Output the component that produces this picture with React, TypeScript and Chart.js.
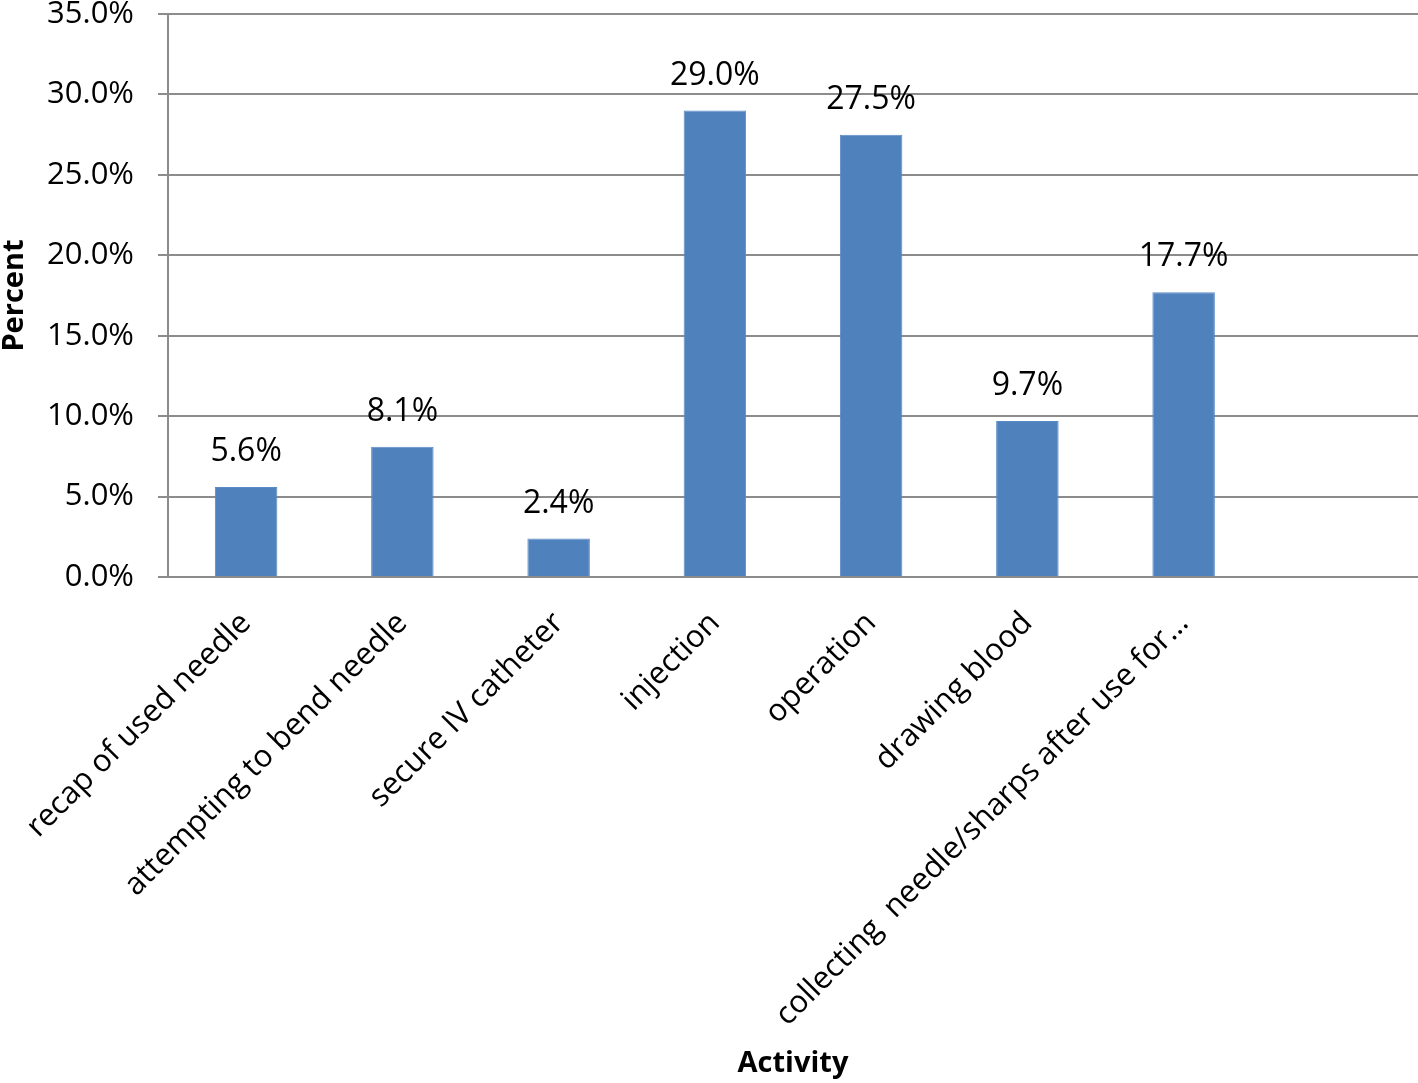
import React, { useEffect, useRef } from "react";
import { Chart, registerables } from "chart.js";

Chart.register(...registerables);

const categories = [
  "recap of used needle",
  "attempting to bend needle",
  "secure IV catheter",
  "injection",
  "operation",
  "drawing blood",
  "collecting  needle/sharps after use for…",
  "",
];
const percentValues: (number | null)[] = [5.6, 8.1, 2.4, 29.0, 27.5, 9.7, 17.7, null];
const yTickMax = 35;
const yTickStep = 5;

const FONT = "'Open Sans', 'Liberation Sans', sans-serif";
const GRID = "#8c8c8c";

const dataLabelPlugin = {
  id: "dataLabels",
  afterDatasetsDraw(chart: any) {
    const ctx = chart.ctx;
    const meta = chart.getDatasetMeta(0);
    ctx.save();
    ctx.font = `32px ${FONT}`;
    ctx.fillStyle = "#000";
    ctx.textAlign = "center";
    ctx.textBaseline = "middle";
    meta.data.forEach((bar: any, i: number) => {
      const v = percentValues[i];
      if (v == null) return;
      ctx.fillText(v.toFixed(1) + "%", bar.x, bar.y - 35);
    });
    ctx.restore();
  },
};

function zeroPadding(scale: any) {
  scale.paddingTop = 0;
  scale.paddingBottom = 0;
  scale.paddingLeft = 0;
  scale.paddingRight = 0;
}

export default function App() {
  const ref = useRef<HTMLCanvasElement>(null);
  useEffect(() => {
    if (!ref.current) return;
    const chart = new Chart(ref.current, {
      type: "bar",
      data: {
        labels: categories,
        datasets: [
          {
            data: percentValues as any,
            backgroundColor: "#4f81bd",
            borderColor: "#5b8bc6",
            borderWidth: 1,
            categoryPercentage: 1,
            barPercentage: 0.4,
          },
        ],
      },
      plugins: [dataLabelPlugin],
      options: {
        responsive: false,
        animation: false,
        devicePixelRatio: 1,
        layout: { padding: { top: 14, right: 0, left: 0, bottom: 0 } },
        plugins: { legend: { display: false }, tooltip: { enabled: false } },
        scales: {
          x: {
            grid: { display: false, drawTicks: false },
            border: { display: true, color: GRID, width: 2 },
            ticks: {
              autoSkip: false,
              maxRotation: 45,
              minRotation: 45,
              padding: 28,
              color: "#000",
              font: { family: FONT, size: 31 },
            },
            title: {
              display: true,
              text: "Activity",
              color: "#000",
              font: { family: FONT, size: 29, weight: "bold" },
              padding: { top: 0, bottom: 2 },
            },
            afterFit(scale: any) {
              scale.height = 1083 - 577;
              zeroPadding(scale);
            },
          },
          y: {
            min: 0,
            max: yTickMax,
            ticks: {
              stepSize: yTickStep,
              padding: 24,
              color: "#000",
              font: { family: FONT, size: 31 },
              callback: (v: any) => Number(v).toFixed(1) + "%",
            },
            grid: { color: GRID, lineWidth: 2, tickLength: 10, drawTicks: true },
            border: { display: true, color: GRID, width: 2 },
            title: {
              display: true,
              text: "Percent",
              color: "#000",
              font: { family: FONT, size: 29, weight: "bold", lineHeight: 1 },
              padding: 0,
            },
            afterFit(scale: any) {
              scale.width = 168;
              zeroPadding(scale);
            },
          },
        },
      },
    });
    return () => chart.destroy();
  }, []);
  return (
    <div style={{ position: "fixed", left: 0, top: 0, width: 1418, height: 1083, background: "#fff" }}>
      <canvas ref={ref} width={1418} height={1083} style={{ width: 1418, height: 1083 }} />
    </div>
  );
}
